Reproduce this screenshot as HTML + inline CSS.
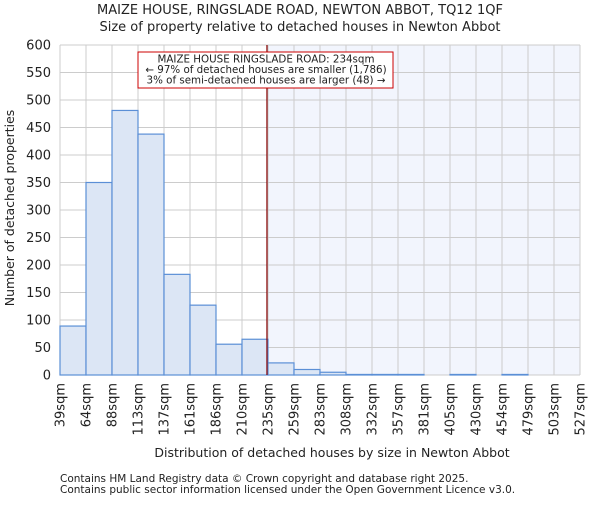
<!DOCTYPE html>
<html><head><meta charset="utf-8"><style>
body{margin:0;background:#fff;}
svg text{font-family:"DejaVu Sans","Liberation Sans",sans-serif;fill:#222;}
</style></head><body>
<svg id="chart" width="600" height="500">
<text x="300" y="14" text-anchor="middle" font-size="13">MAIZE HOUSE, RINGSLADE ROAD, NEWTON ABBOT, TQ12 1QF</text>
<text x="300" y="31" text-anchor="middle" font-size="13">Size of property relative to detached houses in Newton Abbot</text>
<g id="plot"></g>
<text x="332" y="457" text-anchor="middle" font-size="12.5">Distribution of detached houses by size in Newton Abbot</text>
<text transform="translate(14,208) rotate(-90)" text-anchor="middle" font-size="12.5">Number of detached properties</text>
<text x="60" y="482" font-size="10.5">Contains HM Land Registry data © Crown copyright and database right 2025.</text>
<text x="60" y="493" font-size="10.5">Contains public sector information licensed under the Open Government Licence v3.0.</text>
</svg>
<script>
const binLabels=["39sqm","64sqm","88sqm","113sqm","137sqm","161sqm","186sqm","210sqm","235sqm","259sqm","283sqm","308sqm","332sqm","357sqm","381sqm","405sqm","430sqm","454sqm","479sqm","503sqm","527sqm"];
const counts=[89,350,481,438,183,127,56,65,22,10,5,1,1,1,0,1,0,1,0,0];
const yTicks=[0,50,100,150,200,250,300,350,400,450,500,550,600];
const markerBin=7.96;
const NS="http://www.w3.org/2000/svg";
const g=document.getElementById("plot");
const L=60,R=580,T=45,B=375,yMax=600;
const bw=(R-L)/counts.length;
const xs=i=>L+i*bw;
const ys=v=>B-v/yMax*(B-T);
function mk(t,a){const e=document.createElementNS(NS,t);for(const k in a)e.setAttribute(k,a[k]);g.appendChild(e);return e;}
const mx=xs(markerBin);
let e=mk("rect",{x:mx,y:T,width:R-mx,height:B-T,fill:"#f2f5fd"});


yTicks.forEach(v=>{
 let l=mk("line",{x1:L,x2:R,y1:ys(v),y2:ys(v),stroke:"#ccc","stroke-width":1});
 
 
 let t=mk("text",{x:L-9,y:ys(v)+4.5,"text-anchor":"end","font-size":"13"});t.textContent=v;
 
 
});
binLabels.forEach((s,i)=>{
 let l=mk("line",{x1:xs(i),x2:xs(i),y1:T,y2:B,stroke:"#ccc","stroke-width":1});
 
 
 let t=mk("text",{transform:`translate(${xs(i)+4.5},${B+8}) rotate(-90)`,"text-anchor":"end","font-size":"13"});t.textContent=s;
 
 
});
counts.forEach((v,i)=>{
 let r=mk("rect",{x:xs(i),y:ys(v),width:bw,height:B-ys(v),fill:"#dce6f5",stroke:"#5b8fd6","stroke-width":1.2});
 
 
});
let ml=mk("line",{x1:mx,x2:mx,y1:T,y2:B,stroke:"#800","stroke-width":1.2});


let bx=mk("rect",{x:138,y:52,width:255,height:36,fill:"#fff",stroke:"#c00","stroke-width":1});


["MAIZE HOUSE RINGSLADE ROAD: 234sqm","← 97% of detached houses are smaller (1,786)","3% of semi-detached houses are larger (48) →"].forEach((s,i)=>{
 let t=mk("text",{x:266,y:62.5+i*10.5,"text-anchor":"middle","font-size":"10.3"});t.textContent=s;
 
 
});
</script>
</body></html>
